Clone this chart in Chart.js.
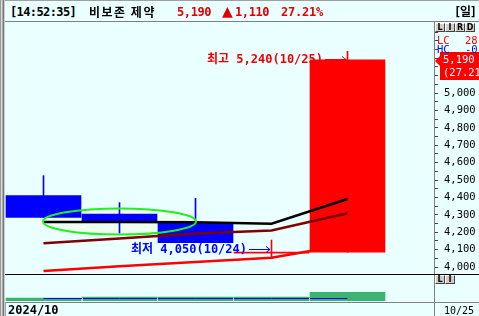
<!DOCTYPE html>
<html><head><meta charset="utf-8">
<script src="https://cdn.jsdelivr.net/npm/chart.js@4.4.1/dist/chart.umd.min.js"></script>
<style>
html,body{margin:0;padding:0;}
body{width:479px;height:316px;background:#eaffff;position:relative;overflow:hidden;}
.a{position:absolute;white-space:nowrap;}
.m{font-family:'DejaVu Sans Mono',monospace;}
.k{font-family:'Noto Sans CJK KR',sans-serif;}
canvas{position:absolute;left:0;}
.btn{display:inline-block;width:8px;height:7px;margin-right:0px;background:#d4d0c8;border:1px solid;border-color:#fff #404040 #404040 #fff;font:bold 8px/7px 'DejaVu Sans',sans-serif;text-align:center;color:#000;vertical-align:top;}
</style></head>
<body>
<canvas id="c1" width="479" height="252" style="top:22px"></canvas>
<canvas id="c2" width="479" height="26" style="top:275px"></canvas>

<!-- frame lines -->
<div class="a" style="left:0;top:0;width:479px;height:1px;background:#a0a0a0"></div>
<div class="a" style="left:0;top:0;width:1px;height:316px;background:#999"></div>
<div class="a" style="left:1px;top:0;width:1px;height:316px;background:#ddd"></div>
<div class="a" style="left:2px;top:0;width:1px;height:316px;background:#aaa"></div>
<div class="a" style="left:3px;top:0;width:1px;height:316px;background:#777"></div>
<div class="a" style="left:4px;top:0;width:1px;height:316px;background:#ccc"></div>
<div class="a" style="left:5px;top:21px;width:474px;height:1px;background:#808080"></div>
<div class="a" style="left:434px;top:22px;width:1px;height:294px;background:#808080"></div>
<div class="a" style="left:5px;top:274px;width:474px;height:1px;background:#000"></div>
<div class="a" style="left:5px;top:302px;width:474px;height:1px;background:#808080"></div>
<div class="a" style="left:5px;top:302px;width:1px;height:14px;background:#a0a0a0"></div>

<div id="hdr"></div>

<div class="a" style="left:435px;top:23px;height:9px;"><span class="btn">L</span><span class="btn">I</span><span class="btn">R</span><span class="btn">D</span></div>
<div class="a" style="left:435px;top:275px;height:9px;"><span class="btn">L</span><span class="btn">I</span></div>

<div class="a m" style="left:437px;top:34px;line-height:13px;font-size:10.5px;color:#ff0000">LC</div>
<div class="a m" style="left:465px;top:34px;line-height:13px;font-size:10.5px;color:#ff0000" id="lc"></div>
<div class="a m" style="left:437px;top:43px;line-height:13px;font-size:10.5px;color:#0000ff">HC</div>
<div class="a m" style="left:465px;top:43px;line-height:13px;font-size:10.5px;color:#0000ff" id="hc"></div>

<div id="xl1" class="a m" style="left:8px;top:303px;line-height:14px;font-size:12px;font-weight:bold;color:#000"></div>
<div id="xl2" class="a m" style="left:444px;top:304px;line-height:14px;font-size:10px;color:#000"></div>

<script>
// ---------------- data ----------------
const stockName = '비보존 제약';
const timeStamp = '14:52:35';
const periodLabel = '일';
const yearMonth = '2024/10';
const dates  = ['10/21','10/22','10/23','10/24','10/25'];
const opens  = [4410, 4305, 4255, 4080, 4085];
const highs  = [4525, 4370, 4395, 4155, 5240];
const lows   = [4285, 4195, 4140, 4050, 4085];
const closes = [4285, 4260, 4140, 4080, 5190];
const maBlack   = [4259, 4259, 4257, 4249, 4391];
const maDarkRed = [4136, 4164, 4193, 4210, 4309];
const maRed     = [3977, 4004, 4029, 4053, 4129];
const volumes = [230000, 310000, 305000, 300000, 670000];
const volMA   = [192000, 192000, 192000, 192000, 192000];
const priceTickLabels = [4000,4100,4200,4300,4400,4500,4600,4700,4800,4900,5000];
const lcCount = '28', hcCount = '-0';
// highlighted range (ellipse) : candles 0..2 around 4262
const ellipseFrom = 0, ellipseTo = 2, ellipseCenter = 4262, ellipseHalf = 75;

// ---------------- derived ----------------
const fmt = v => v.toLocaleString('en-US');
const last = closes.length - 1;
const prevClose = closes[last - 1];
const change = closes[last] - prevClose;
const rate = (change / prevClose * 100).toFixed(2);

// header
const hdr = document.getElementById('hdr');
function span(txt, left, cls, style){
  const d = document.createElement('div');
  d.className = 'a ' + cls;
  d.style.cssText = `left:${left}px;top:4px;line-height:16px;height:16px;` + style;
  d.textContent = txt;
  hdr.appendChild(d);
}
span('[' + timeStamp + ']', 10, 'm', 'font-size:12px;font-weight:bold;letter-spacing:-0.6px;color:#000');
span(stockName, 89, 'k', 'font-size:12px;font-weight:bold;letter-spacing:1.5px;color:#000');
span(fmt(closes[last]), 177, 'm', 'font-size:12px;font-weight:bold;letter-spacing:-0.4px;color:#e00000');
span(change >= 0 ? '▲' : '▼', 222, '', "font-family:'DejaVu Sans';font-size:14px;color:#e00000;top:3px");
span(fmt(Math.abs(change)), 235, 'm', 'font-size:12px;font-weight:bold;letter-spacing:-0.4px;color:#e00000');
span(rate + '%', 281, 'm', 'font-size:12px;font-weight:bold;letter-spacing:-0.2px;color:#e00000');
span('[' + periodLabel + ']', 454, 'm', "font-family:'DejaVu Sans Mono','Noto Sans CJK KR';font-size:12px;font-weight:bold;letter-spacing:-1.2px;color:#000");
document.getElementById('xl1').textContent = yearMonth;
document.getElementById('xl2').textContent = dates[last];
document.getElementById('lc').textContent = lcCount;
document.getElementById('hc').textContent = hcCount;

// ---------------- chart helpers ----------------
const X_MIN = -0.5066, X_MAX = 5.1382;
const candleColor = i => closes[i] >= opens[i] ? '#ff0000' : '#0000ff';
const pts = arr => arr.map((v, i) => ({x: i, y: v}));

function arrowLabel(ctx, tipX, yy, text, color){
  ctx.save();
  ctx.strokeStyle = color; ctx.fillStyle = color; ctx.lineWidth = 1;
  const x0 = tipX - 21;
  ctx.beginPath();
  ctx.moveTo(x0, yy + 0.5); ctx.lineTo(tipX, yy + 0.5);
  ctx.moveTo(tipX - 4, yy - 2.5); ctx.lineTo(tipX, yy + 0.5); ctx.lineTo(tipX - 4, yy + 3.5);
  ctx.stroke();
  ctx.font = "bold 12px 'DejaVu Sans Mono','Noto Sans CJK KR'";
  ctx.textAlign = 'right'; ctx.textBaseline = 'middle';
  ctx.fillText(text, x0 - 2, yy + 1);
  ctx.restore();
}

function ellipsePath(chart){
  const {ctx, scales:{x, y}} = chart;
  const x1 = x.getPixelForValue(ellipseFrom), x2 = x.getPixelForValue(ellipseTo);
  const cy = y.getPixelForValue(ellipseCenter);
  const ry = Math.abs(y.getPixelForValue(ellipseCenter + ellipseHalf) - cy);
  ctx.beginPath();
  ctx.ellipse((x1 + x2) / 2, cy, (x2 - x1) / 2 + 0.5, ry, 0, 0, Math.PI * 2);
}

const overlay = {
  id: 'overlay',
  beforeDatasetsDraw(chart){
    const ctx = chart.ctx;
    ctx.save();
    ellipsePath(chart);
    ctx.fillStyle = '#eefff2';
    ctx.fill();
    ctx.restore();
  },
  afterDatasetsDraw(chart){
    const {ctx, scales:{x, y}} = chart;
    ctx.save();
    ellipsePath(chart);
    ctx.strokeStyle = '#22ee22'; ctx.lineWidth = 2;
    ctx.stroke();
    ctx.restore();

    // highest / lowest annotations
    let hi = 0, lo = 0;
    highs.forEach((v, i) => { if (v > highs[hi]) hi = i; });
    lows.forEach((v, i) => { if (v < lows[lo]) lo = i; });
    const hx = Math.round(x.getPixelForValue(hi)) - 1;
    const hy = Math.round(y.getPixelForValue(highs[hi]) + 8);
    arrowLabel(ctx, hx, hy, '최고 ' + fmt(highs[hi]) + '(' + dates[hi] + ')', '#f00000');
    const lx = Math.round(x.getPixelForValue(lo)) - 1;
    const ly = Math.round(y.getPixelForValue(lows[lo]) - 9);
    arrowLabel(ctx, lx, ly, '최저 ' + fmt(lows[lo]) + '(' + dates[lo] + ')', '#0000ff');
  },
  afterDraw(chart){
    const {ctx, scales:{y}} = chart;
    const cy = Math.round(y.getPixelForValue(closes[last]));
    const bx = Math.round(y.left) + 6;
    ctx.save();
    ctx.fillStyle = '#ff0000';
    ctx.fillRect(bx, cy - 8, chart.width - bx, 28);
    ctx.beginPath();
    ctx.moveTo(bx - 5, cy + 1); ctx.lineTo(bx, cy - 4); ctx.lineTo(bx, cy + 6); ctx.closePath();
    ctx.fill();
    ctx.fillStyle = '#ffffff';
    ctx.font = "10.5px 'DejaVu Sans Mono'";
    ctx.textBaseline = 'middle'; ctx.textAlign = 'left';
    ctx.fillText(fmt(closes[last]), bx + 3, cy + 0.5);
    ctx.fillText('(' + rate + '%)', bx + 3, cy + 13);
    ctx.restore();
  }
};

new Chart(document.getElementById('c1'), {
  type: 'bar',
  data: {
    datasets: [
      {type:'line', data: pts(maBlack), borderColor:'#000000', borderWidth:2.5, pointRadius:0, tension:0, order:0},
      {type:'line', data: pts(maDarkRed), borderColor:'#800000', borderWidth:2.5, pointRadius:0, tension:0, order:0},
      {type:'line', data: pts(maRed), borderColor:'#ff0000', borderWidth:2.5, pointRadius:0, tension:0, order:0},
      {type:'bar', data: opens.map((o, i) => ({x: i, y: [o, closes[i]]})),
        backgroundColor: c => candleColor(c.dataIndex), barThickness:75, minBarLength:1, order:2},
      {type:'bar', data: lows.map((l, i) => ({x: i, y: [l, highs[i]]})),
        backgroundColor: c => candleColor(c.dataIndex), barThickness:1, order:3}
    ]
  },
  options: {
    responsive:false, animation:false, events:[],
    devicePixelRatio:1,
    layout:{padding:{left:5, right:0, top:0, bottom:0}},
    plugins:{legend:{display:false}, tooltip:{enabled:false}},
    datasets:{bar:{grouped:false}},
    scales:{
      x:{type:'linear', min:X_MIN, max:X_MAX, display:false, offset:false},
      y:{
        position:'right', min:3960, max:5408,
        afterBuildTicks(s){
          const t = [];
          for (let v = 4000; v <= 5400; v += 50) t.push({value:v});
          s.ticks = t;
        },
        afterFit(s){ s.width = 45; s.paddingTop = 0; s.paddingBottom = 0; },
        ticks:{
          autoSkip:false, padding:6, color:'#000',
          font:{family:'DejaVu Sans Mono', size:10.5},
          callback: v => priceTickLabels.includes(v) ? fmt(v) : ''
        },
        grid:{drawOnChartArea:false, drawTicks:true, tickLength:4, color:'#404040'},
        border:{display:true, color:'#808080'}
      }
    }
  },
  plugins:[overlay]
});

const volTicks = {
  id:'volTicks',
  afterDraw(chart){
    const {ctx, scales:{x}, chartArea:a} = chart;
    ctx.save();
    ctx.strokeStyle = '#d8d8d8'; ctx.lineWidth = 1;
    for (let i = 0; i < dates.length - 1; i++){
      const px = Math.round(x.getPixelForValue(i + 0.5)) + 0.5;
      ctx.beginPath(); ctx.moveTo(px, a.bottom - 3); ctx.lineTo(px, a.bottom); ctx.stroke();
    }
    ctx.restore();
  }
};

new Chart(document.getElementById('c2'), {
  type:'bar',
  data:{
    datasets:[
      {type:'line', data: pts(volMA), borderColor:'#0000ff', borderWidth:1, pointRadius:0, order:0},
      {type:'bar', data: pts(volumes), backgroundColor:'#3cb371', barThickness:75, order:1}
    ]
  },
  options:{
    responsive:false, animation:false, events:[], devicePixelRatio:1,
    layout:{padding:{left:5, right:45, top:0, bottom:0}},
    plugins:{legend:{display:false}, tooltip:{enabled:false}},
    scales:{
      x:{type:'linear', min:X_MIN, max:X_MAX, display:false, offset:false},
      y:{min:0, max:2000000, display:false}
    }
  },
  plugins:[volTicks]
});
</script>
</body></html>
